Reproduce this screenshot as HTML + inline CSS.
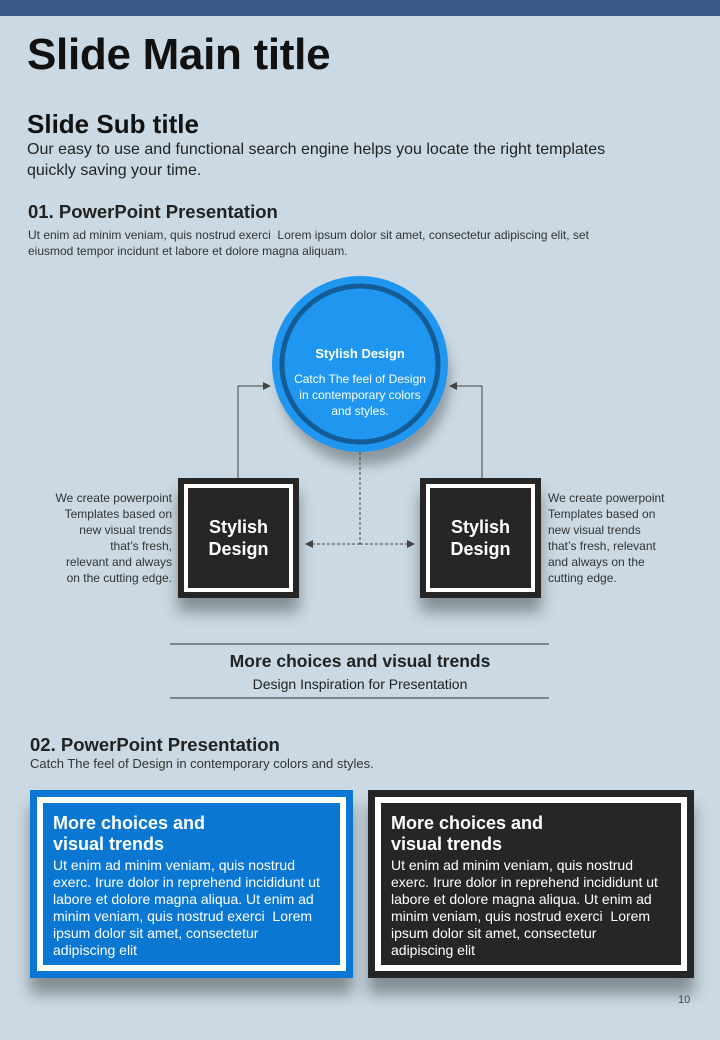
<!DOCTYPE html>
<html><head><style>
body{margin:0;width:720px;height:1040px;overflow:hidden;background:#cad9e3;font-family:"Liberation Sans",sans-serif;position:relative;color:#222}
.a{position:absolute}
.topbar{left:0;top:0;width:720px;height:16px;background:#3a5b88}
h1{position:absolute;left:27px;top:30px;margin:0;font-size:44px;font-weight:bold;color:#111;letter-spacing:-0.3px}
.sub{left:27px;top:109px;font-size:26px;font-weight:bold;color:#111}
.p1{left:27px;top:139px;font-size:16px;line-height:21px;color:#222}
.h3{font-size:18.5px;font-weight:bold;color:#222}
.sm{font-size:12px;line-height:16px;color:#333;white-space:nowrap}
.sq{width:109px;height:108px;background:#262626;border:6px solid #262626;box-shadow:0 14px 14px rgba(0,0,0,.35)}
.sq div{border:4px solid #fff;box-sizing:border-box;width:109px;height:108px;color:#fff;font-weight:bold;font-size:18px;text-align:center;display:flex;align-items:center;justify-content:center;line-height:22px}
.box{width:323px;height:188px;box-shadow:0 16px 14px rgba(0,0,0,.35)}
.box .in{position:absolute;left:7px;top:7px;right:7px;bottom:7px;border:6px solid #fff;padding:10px 4px 10px 10px;color:#fff}
.box b{display:block;font-size:18px;line-height:21px}
.box p{margin:2px 0 0;font-size:14px;line-height:17px;white-space:nowrap}
</style></head><body>
<div class="a topbar"></div>
<h1>Slide Main title</h1>
<div class="a sub">Slide Sub title</div>
<div class="a p1">Our easy to use and functional search engine helps you locate the right templates<br>quickly saving your time.</div>
<div class="a h3" style="left:28px;top:201px">01. PowerPoint Presentation</div>
<div class="a sm" style="left:28px;top:227px">Ut enim ad minim veniam, quis nostrud exerci &nbsp;Lorem ipsum dolor sit amet, consectetur adipiscing elit, set<br>eiusmod tempor incidunt et labore et dolore magna aliquam.</div>

<svg class="a" style="left:0;top:0" width="720" height="1040">
<defs><marker id="ar" markerWidth="8" markerHeight="8" refX="7" refY="4" orient="auto"><path d="M0,0 L8,4 L0,8z" fill="#444"/></marker>
<filter id="sh"><feGaussianBlur stdDeviation="6"/></filter></defs>
<ellipse cx="365" cy="380" rx="85" ry="85" fill="rgba(0,0,0,.3)" filter="url(#sh)"/>
<polyline points="238,478 238,386 270,386" fill="none" stroke="#444" marker-end="url(#ar)"/>
<polyline points="482,478 482,386 450,386" fill="none" stroke="#444" marker-end="url(#ar)"/>
<line x1="360" y1="452" x2="360" y2="544" stroke="#444" stroke-dasharray="3,2"/>
<line x1="360" y1="544" x2="306" y2="544" stroke="#444" stroke-dasharray="3,2" marker-end="url(#ar)"/>
<line x1="360" y1="544" x2="414" y2="544" stroke="#444" stroke-dasharray="3,2" marker-end="url(#ar)"/>
<circle cx="360" cy="364" r="88" fill="#1f96f0"/>
<circle cx="360" cy="364" r="78" fill="#1f96f0" stroke="#135c96" stroke-width="5"/>
<text x="360" y="358" text-anchor="middle" fill="#fff" font-weight="bold" font-size="13" font-family="Liberation Sans">Stylish Design</text>
<text x="360" y="383" text-anchor="middle" fill="#fff" font-size="12" font-family="Liberation Sans">Catch The feel of Design</text>
<text x="360" y="399" text-anchor="middle" fill="#fff" font-size="12" font-family="Liberation Sans">in contemporary colors</text>
<text x="360" y="415" text-anchor="middle" fill="#fff" font-size="12" font-family="Liberation Sans">and styles.</text>
<line x1="170" y1="644" x2="549" y2="644" stroke="#333"/>
<line x1="170" y1="698" x2="549" y2="698" stroke="#333"/>
</svg>

<div class="a sq" style="left:178px;top:478px"><div>Stylish<br>Design</div></div>
<div class="a sq" style="left:420px;top:478px"><div>Stylish<br>Design</div></div>
<div class="a sm" style="right:548px;top:490px;text-align:right">We create powerpoint<br>Templates based on<br>new visual trends<br>that’s fresh,<br>relevant and always<br>on the cutting edge.</div>
<div class="a sm" style="left:548px;top:490px">We create powerpoint<br>Templates based on<br>new visual trends<br>that’s fresh, relevant<br>and always on the<br>cutting edge.</div>
<div class="a h3" style="left:170px;width:380px;text-align:center;top:651px;font-size:17.5px">More choices and visual trends</div>
<div class="a" style="left:170px;width:380px;text-align:center;top:676px;font-size:14px">Design Inspiration for Presentation</div>

<div class="a h3" style="left:30px;top:734px">02. PowerPoint Presentation</div>
<div class="a sm" style="left:30px;top:756px;font-size:13px">Catch The feel of Design in contemporary colors and styles.</div>

<div class="a box" style="left:30px;top:790px;background:#0a77d2"><div class="in" style="background:#0a77d2"><b>More choices and<br>visual trends</b><p>Ut enim ad minim veniam, quis nostrud<br>exerc. Irure dolor in reprehend incididunt ut<br>labore et dolore magna aliqua. Ut enim ad<br>minim veniam, quis nostrud exerci &nbsp;Lorem<br>ipsum dolor sit amet, consectetur<br>adipiscing elit</p></div></div>
<div class="a box" style="left:368px;top:790px;width:326px;background:#262626"><div class="in" style="background:#262626"><b>More choices and<br>visual trends</b><p>Ut enim ad minim veniam, quis nostrud<br>exerc. Irure dolor in reprehend incididunt ut<br>labore et dolore magna aliqua. Ut enim ad<br>minim veniam, quis nostrud exerci &nbsp;Lorem<br>ipsum dolor sit amet, consectetur<br>adipiscing elit</p></div></div>
<div class="a" style="left:678px;top:994px;font-size:11px;color:#444">10</div>
</body></html>
